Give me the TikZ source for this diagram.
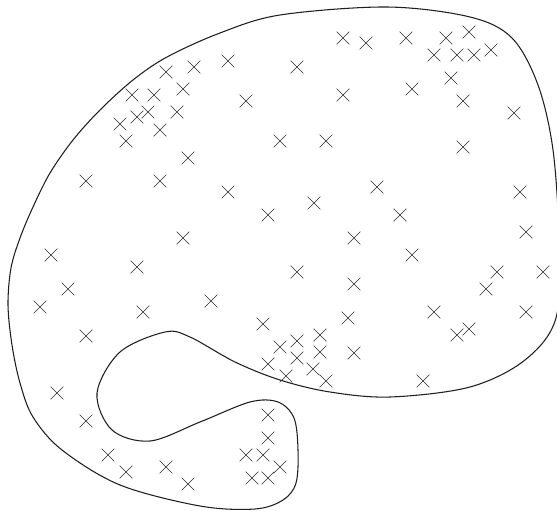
\documentclass[tikz,border=0pt]{standalone}
\usepackage{tikz}
\usetikzlibrary{shapes.misc}
\definecolor{skInk}{HTML}{1E1E1E}
\definecolor{skMark}{HTML}{2A2A2A}
\tikzset{
  sk canvas/.style={fill=white},
  sk boundary/.style={
    draw=skInk,
    line width=.75pt,
    smooth cycle,
    tension=.55
  },
  sk sample/.style={
    cross out,
    draw=skMark,
    line width=.45pt,
    minimum size=.3cm,
    inner sep=0pt
  }
}
\begin{document}
\begin{tikzpicture}[x=.025cm,y=-.025cm]
  \useasboundingbox[sk canvas] (0,0) rectangle (557,511);

  \draw[sk boundary] plot coordinates {
    (280,15) (387,7) (470,17) (512,38) (538,85) (553,150) (559,240)
    (556,318) (525,360) (470,387) (390,397) (330,392) (280,380)
    (235,362) (190,337) (165,332) (120,352) (97,393) (112,430)
    (150,441) (200,422) (250,402) (278,402) (294,418) (298,450)
    (296,483) (283,500) (255,509) (200,506) (120,485) (62,450)
    (33,417) (20,383) (12,345) (8,305) (11,268) (20,238) (33,207)
    (50,173) (73,140) (100,110) (133,80) (167,57) (220,33)
  };

  \foreach \px/\py [count=\i] in {
    343/38, 366/43, 406/38, 446/38, 469/32, 434/55, 457/55, 474/55, 491/50,
    166/72, 194/67, 228/61, 297/67,
    132/95, 154/95, 183/89, 246/101, 343/95, 412/89, 451/78, 463/101, 514/113,
    120/124, 137/117, 148/112, 177/112, 160/130, 126/141,
    280/141, 326/141, 463/147, 188/158,
    86/181, 160/181, 228/192, 377/187, 520/192,
    268/215, 314/203, 400/215,
    183/238, 354/238, 526/232,
    51/255, 412/255,
    137/267, 297/272, 497/272, 543/272,
    68/289, 354/284, 486/289,
    40/307, 143/312, 211/301, 434/312, 526/312,
    86/336, 263/324, 348/318, 457/335, 469/329,
    297/341, 320/335, 280/347, 297/358, 320/352, 354/353,
    268/364, 313/369, 286/376, 326/381, 423/381,
    57/393, 86/421, 268/415, 268/438,
    108/455, 246/455, 263/455, 166/467, 280/467,
    126/472, 252/478, 268/478, 188/484}
    \node[sk sample] (s\i) at (\px,\py) {};
\end{tikzpicture}
\end{document}
